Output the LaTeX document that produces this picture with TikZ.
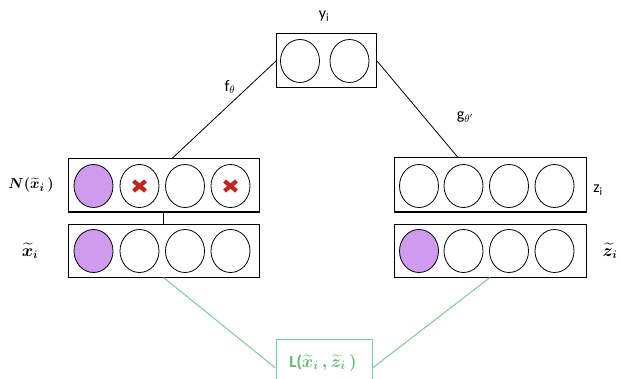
\documentclass[tikz,border=0pt]{standalone}
\usepackage{amsmath}
\usepackage{fontspec}
\setmainfont{Carlito}
\usetikzlibrary{shapes.geometric}
\definecolor{purp}{RGB}{206,155,238}
\definecolor{redx}{RGB}{190,38,30}
\definecolor{grn}{RGB}{125,205,145}
\definecolor{grntxt}{RGB}{95,185,115}
\tikzset{
  layer/.style={draw, line width=1pt, minimum width=191pt, minimum height=53pt, inner sep=0pt},
  unit/.style={draw, ellipse, line width=0.8pt, minimum width=39pt, minimum height=43pt, inner sep=0pt},
  on/.style={unit, fill=purp},
  xmark/.style={draw=redx, line width=4.2pt},
  lbl/.style={font=\fontsize{16}{18}\selectfont},
  mlbl/.style={font=\fontsize{16}{18}\selectfont\boldmath},
  link/.style={line width=0.8pt},
  glink/.style={draw=grn, line width=1pt}
}
\begin{document}
\begin{tikzpicture}[x=1pt,y=-1pt]
\useasboundingbox (0,0) rectangle (620,379);
% boxes
\node[layer, minimum width=100pt, minimum height=54pt] (ybox) at (326.5,61) {};
\node[layer] (Nbox) at (163.5,185.5) {};
\node[layer] (xbox) at (163.5,250.5) {};
\node[layer, minimum width=192pt, minimum height=54pt] (zbox) at (490,185) {};
\node[layer, minimum width=192pt] (ztbox) at (490,250.5) {};
\node[draw=grn, line width=1pt, minimum width=96pt, minimum height=50pt, inner sep=0pt] (Lbox) at (324,364) {};
% units
\node[unit] (y1) at (300,61) {};
\node[unit] (y2) at (349.5,61) {};
\node[on] (n1) at (93.5,186) {};
\node[unit] (n2) at (139.5,186) {};
\node[unit] (n3) at (185,186) {};
\node[unit] (n4) at (230.5,186) {};
\node[on] (x1) at (93.5,251) {};
\node[unit] (x2) at (139.5,251) {};
\node[unit] (x3) at (185,251) {};
\node[unit] (x4) at (230.5,251) {};
\node[unit] (z1) at (419,186) {};
\node[unit] (z2) at (463.5,186) {};
\node[unit] (z3) at (509,186) {};
\node[unit] (z4) at (554.5,186) {};
\node[on] (t1) at (419,251) {};
\node[unit] (t2) at (463.5,251) {};
\node[unit] (t3) at (509,251) {};
\node[unit] (t4) at (554.5,251) {};
% crosses
\foreach \c in {n2,n4}{
  \draw[xmark] ([shift={(-6,-5)}]\c.center) -- ([shift={(6,5)}]\c.center);
  \draw[xmark] ([shift={(-6,5)}]\c.center) -- ([shift={(6,-5)}]\c.center);
}
% connectors
\draw[link] (ybox.west) -- ([xshift=8.5pt]Nbox.north);
\draw[link] (ybox.east) -- ([xshift=-32pt]zbox.north);
\draw[link] (Nbox.south) -- (xbox.north);
\draw[glink] (xbox.south) -- ([yshift=-4pt]Lbox.west);
\draw[glink] ([yshift=-4pt]Lbox.east) -- (ztbox.south);
% labels
\node[lbl] (ly) at (324,16) {y\textsubscript{i}};
\node[lbl] (lf) at (230,87) {f$_{\theta}$};
\node[lbl] (lg) at (465,117) {g$_{\theta'}$};
\node[lbl] (lz) at (598,190) {z\textsubscript{i}};
\node[mlbl] (lzt) at (610,251) {$\widetilde{z}_i$};
\node[font=\fontsize{15}{17}\selectfont\boldmath] (lN) at (31,185) {$N(\widetilde{x}_i\,)$};
\node[mlbl] (lx) at (30,251) {$\widetilde{x}_i$};
\node[font=\fontsize{17}{19}\selectfont\bfseries\boldmath, text=grntxt] (lL) at (323,363) {L($\widetilde{x}_i\,,\widetilde{z}_i\,)$};
\end{tikzpicture}
\end{document}
